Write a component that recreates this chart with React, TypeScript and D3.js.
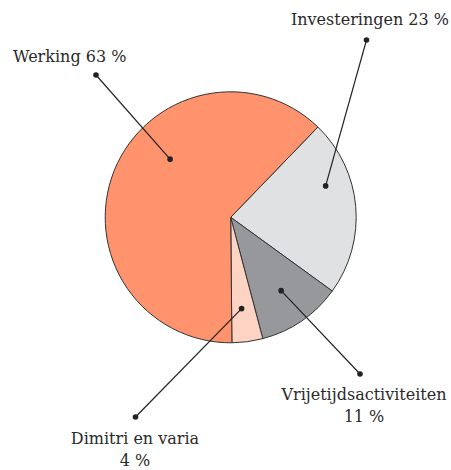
import React from 'react';
import * as d3 from 'd3';

// slices in drawing order (clockwise, starting upper right)
const labels = ['Investeringen', 'Vrijetijdsactiviteiten', 'Dimitri en varia', 'Werking'];
const values = [23, 11, 4, 63];
const colors = ['#e0e1e3', '#97989b', '#fdd3c3', '#fe936d'];

// leader line layout: inner dot (angle in degrees clockwise from top, radius), outer dot, text
const callouts = [
  { angle: 71.7, r: 100, ox: 366.5, oy: 40, lines: ['Investeringen 23 %'], tx: 449, ty: 25, anchor: 'end' },
  { angle: 145.5, r: 89, ox: 360, oy: 374, lines: ['Vrijetijdsactiviteiten', '11 %'], tx: 364, ty: 400, anchor: 'middle' },
  { angle: 173.2, r: 92, ox: 135.5, oy: 417, lines: ['Dimitri en varia', '4 %'], tx: 135, ty: 444, anchor: 'middle' },
  { angle: 313.8, r: 84, ox: 96, oy: 75, lines: ['Werking 63 %'], tx: 13, ty: 62, anchor: 'start' },
];

const W = 451, H = 470;
const cx = 230.7, cy = 217.3, radius = 125.5;

export default function App() {
  const pie = d3.pie<number>().sort(null).value(d => d).startAngle((44 * Math.PI) / 180).endAngle((44 * Math.PI) / 180 + 2 * Math.PI);
  const arc = d3.arc<d3.PieArcDatum<number>>().innerRadius(0).outerRadius(radius);
  const arcs = pie(values);

  return (
    <svg width={W} height={H} style={{ position: 'absolute', left: 0, top: 0, background: '#fff' }}>
      <g transform={`translate(${cx},${cy})`}>
        {arcs.map((a, i) => (
          <path key={labels[i]} d={arc(a) || ''} fill={colors[i]} stroke="#333" strokeWidth={1} strokeLinejoin="round" />
        ))}
      </g>
      {callouts.map((c, i) => {
        const t = (c.angle * Math.PI) / 180;
        const ix = cx + c.r * Math.sin(t);
        const iy = cy - c.r * Math.cos(t);
        return (
          <g key={i}>
            <line x1={ix} y1={iy} x2={c.ox} y2={c.oy} stroke="#222" strokeWidth={1.2} />
            <circle cx={ix} cy={iy} r={2.8} fill="#222" />
            <circle cx={c.ox} cy={c.oy} r={2.8} fill="#222" />
            <text x={c.tx} y={c.ty} textAnchor={c.anchor as any} fontFamily="'DejaVu Serif', serif" fontSize={16} fill="#2a2a2a">
              {c.lines.map((l, j) => (
                <tspan key={j} x={c.tx} dy={j === 0 ? 0 : 22}>{l}</tspan>
              ))}
            </text>
          </g>
        );
      })}
    </svg>
  );
}
